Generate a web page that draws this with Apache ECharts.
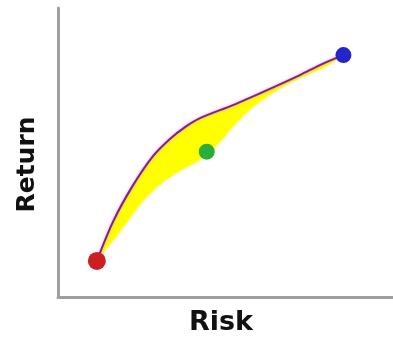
<!DOCTYPE html>
<html>
<head>
<meta charset="utf-8">
<script src="https://cdn.jsdelivr.net/npm/echarts@6/dist/echarts.min.js"></script>
<style>
html,body{margin:0;padding:0;background:#fff;}
#chart{width:393px;height:337px;}
</style>
</head>
<body>
<div id="chart"></div>
<script>
// Efficient frontier (upper boundary) [risk, return]
var upperCurve = [
  [1.16, 1.25], [1.64, 2.60], [2.21, 3.81], [2.84, 4.88], [3.34, 5.47],
  [3.79, 5.88], [4.24, 6.19], [5.22, 6.64], [6.24, 7.16], [7.22, 7.68],
  [7.88, 8.06], [8.51, 8.37]
];
// Lower boundary of the feasible region [risk, return]
var lowerCurve = [
  [1.16, 1.25], [1.76, 2.11], [2.45, 3.18], [3.04, 3.88], [3.64, 4.36],
  [4.24, 4.74], [4.84, 5.36], [5.22, 5.88], [5.73, 6.47], [6.24, 6.92],
  [6.72, 7.27], [7.22, 7.56], [8.03, 7.99], [8.51, 8.37]
];
// Portfolios
var pointNames = ['Low', 'Mid', 'High'];
var pointValues = [[1.16, 1.25], [4.44, 5.03], [8.52, 8.37]];
var pointColors = ['#cc2020', '#2aae3a', '#2424c8'];
var pointSizes = [18, 16, 16];
var xName = 'Risk';
var yName = 'Return';

var chart = echarts.init(document.getElementById('chart'));
var regionPts = upperCurve.concat(lowerCurve.slice().reverse());

var axisCommon = {
  type: 'value', min: 0, max: 10,
  axisLine: { show: true, lineStyle: { color: '#a0a0a0', width: 3 } },
  axisTick: { show: false }, axisLabel: { show: false }, splitLine: { show: false }
};

chart.setOption({
  backgroundColor: '#ffffff',
  animation: false,
  grid: { left: 58, right: 0, top: 8, bottom: 40, containLabel: false, outerBoundsMode: 'none' },
  xAxis: Object.assign({}, axisCommon, {
    name: xName, nameLocation: 'middle', nameGap: 12,
    nameTextStyle: { fontFamily: 'DejaVu Sans', fontWeight: 'bold', fontSize: 27, color: '#111', padding: [0, 9, 0, 0] }
  }),
  yAxis: Object.assign({}, axisCommon, {
    name: yName, nameLocation: 'middle', nameGap: 18,
    nameTextStyle: { fontFamily: 'DejaVu Sans', fontWeight: 'bold', fontSize: 25, color: '#111', padding: [0, 24, 0, 0] }
  }),
  series: [
    {
      type: 'custom',
      data: [0],
      silent: true,
      z: 1,
      renderItem: function (params, api) {
        var pts = regionPts.map(function (p) { return api.coord(p); });
        return {
          type: 'polygon',
          shape: { points: pts, smooth: 0.3 },
          style: { fill: '#ffff00', stroke: '#ffff66', lineWidth: 1 }
        };
      }
    },
    {
      type: 'line',
      data: upperCurve,
      smooth: 0.3,
      symbol: 'none',
      z: 2,
      lineStyle: { color: '#7e2388', width: 2, shadowColor: 'rgba(220,120,220,0.8)', shadowBlur: 3 }
    },
    {
      type: 'scatter',
      z: 3,
      data: pointValues.map(function (v, i) {
        return { name: pointNames[i], value: v, symbolSize: pointSizes[i], itemStyle: { color: pointColors[i], opacity: 1 } };
      })
    }
  ]
});
</script>
</body>
</html>
